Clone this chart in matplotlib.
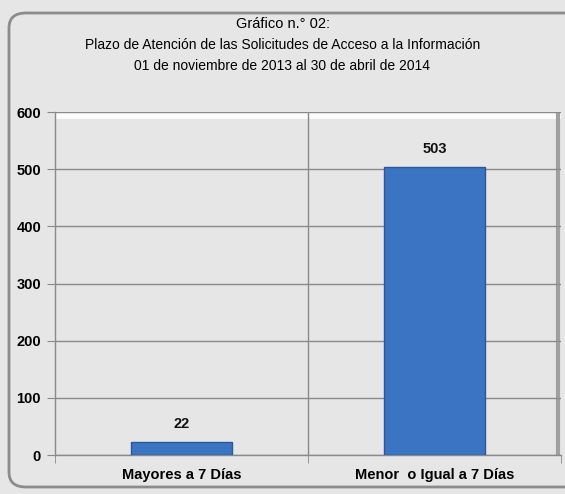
import matplotlib
matplotlib.use("Agg")
import matplotlib.pyplot as plt
from matplotlib.patches import FancyBboxPatch

categories = ["Mayores a 7 Días", "Menor  o Igual a 7 Días"]
values = [22, 503]
yticks = [0, 100, 200, 300, 400, 500, 600]
title_lines = ["Gráfico n.° 02:",
               "Plazo de Atención de las Solicitudes de Acceso a la Información",
               "01 de noviembre de 2013 al 30 de abril de 2014"]

plt.rcParams['font.family'] = ["Liberation Sans", "DejaVu Sans"]

W, H = 565, 494
fig = plt.figure(figsize=(W / 100, H / 100), dpi=100)
fig.patch.set_facecolor("#e6e6e6")

frame = FancyBboxPatch((9 / W, 7 / H), 700 / W, 474 / H,
                       boxstyle="round,pad=0,rounding_size=0.03",
                       transform=fig.transFigure, facecolor="#e6e6e6",
                       edgecolor="#8c8c8c", linewidth=2.0, zorder=0)
fig.patches.append(frame)

ax = fig.add_axes([55 / W, 1 - 455 / H, (561 - 55) / W, (455 - 112) / H])
ax.set_facecolor("#e6e6e6")
ax.set_zorder(1)

x = list(range(len(categories)))
ax.bar(x, values, width=0.40, color="#3b74c2", edgecolor="#2b5896",
       linewidth=1.0, zorder=3)
for xi, v in zip(x, values):
    ax.text(xi, v + 20, str(v), ha="center", va="bottom", fontsize=10.5,
            fontweight="bold", color="#111111", zorder=4)

ax.set_xlim(-0.5, len(categories) - 0.5)
ax.set_ylim(0, 600)
ax.set_yticks(yticks)
ax.set_yticklabels([str(t) for t in yticks], fontsize=10.5, fontweight="bold")
ax.set_xticks(x)
ax.set_xticklabels(categories, fontweight="bold", fontsize=10.5)
ax.set_xticks([-0.5, 0.5, 1.5], minor=True)
ax.tick_params(axis="x", which="major", length=0, pad=9)
ax.tick_params(axis="x", which="minor", length=6, color="#888888")
ax.tick_params(axis="y", length=6, color="#888888", pad=4)

ax.yaxis.grid(True, color="#8a8a8a", linewidth=1.0, zorder=1)
ax.axvline(0.5, color="#8a8a8a", linewidth=1.0, zorder=1)
for s in ["top", "right"]:
    ax.spines[s].set_visible(False)
for s in ["left", "bottom"]:
    ax.spines[s].set_color("#8a8a8a")
    ax.spines[s].set_linewidth(1.0)

ax.axhspan(588, 598, color="#ffffff", alpha=0.85, lw=0, zorder=0.5)
ax.axvline(1.49, color="#a0a0a0", linewidth=3, zorder=0.5)

ys = [24, 45, 66]
sizes = [10.5, 10, 10]
for t, yy, fs in zip(title_lines, ys, sizes):
    fig.text(0.5, 1 - yy / H, t, ha="center", va="center", fontsize=fs,
             color="#000000")

fig.savefig("out.png", dpi=100, facecolor=fig.get_facecolor())
